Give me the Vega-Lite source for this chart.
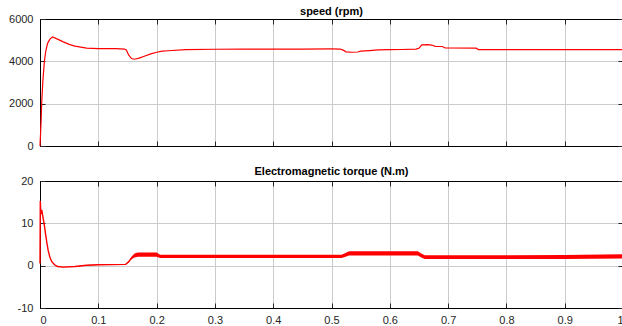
{
  "$schema": "https://vega.github.io/schema/vega-lite/v6.json",
  "padding": {"left": 8, "top": 6, "right": 0, "bottom": 0},
  "background": "white",
  "bounds": "flush",
  "spacing": 35,
  "config": {
    "view": {"stroke": null},
    "font": "Liberation Sans",
    "axis": {
      "labelFont": "Liberation Sans",
      "labelFontSize": 11,
      "labelColor": "#262626",
      "domainColor": "#000000",
      "domainWidth": 1,
      "tickColor": "#262626",
      "tickSize": -5,
      "tickWidth": 1,
      "gridColor": "#cccccc",
      "gridOpacity": 1,
      "gridWidth": 1,
      "labelPadding": 12,
      "labelExpr": "'' + datum.value"
    },
    "title": {"font": "Liberation Sans", "fontSize": 11, "fontWeight": "bold", "color": "#000000", "offset": -4, "frame": "group"}
  },
  "vconcat": [
    {
      "width": 583,
      "height": 127,
      "title": {"text": "speed (rpm)"},
      "data": {"values": [
        {"t": 0, "s": 0}, {"t": 0.001, "s": 600}, {"t": 0.002, "s": 1300}, {"t": 0.003, "s": 2100},
        {"t": 0.005, "s": 3100}, {"t": 0.0075, "s": 4000}, {"t": 0.01, "s": 4500}, {"t": 0.013, "s": 4850},
        {"t": 0.017, "s": 5050}, {"t": 0.0215, "s": 5150}, {"t": 0.03, "s": 5050}, {"t": 0.04, "s": 4920},
        {"t": 0.05, "s": 4800}, {"t": 0.06, "s": 4720}, {"t": 0.07, "s": 4670}, {"t": 0.08, "s": 4620},
        {"t": 0.1, "s": 4600}, {"t": 0.13, "s": 4600}, {"t": 0.145, "s": 4580}, {"t": 0.148, "s": 4540},
        {"t": 0.152, "s": 4300}, {"t": 0.157, "s": 4130}, {"t": 0.162, "s": 4100}, {"t": 0.17, "s": 4150},
        {"t": 0.18, "s": 4250}, {"t": 0.19, "s": 4350}, {"t": 0.2, "s": 4430}, {"t": 0.21, "s": 4480},
        {"t": 0.22, "s": 4500}, {"t": 0.25, "s": 4550}, {"t": 0.3, "s": 4570}, {"t": 0.35, "s": 4575},
        {"t": 0.4, "s": 4580}, {"t": 0.45, "s": 4580}, {"t": 0.5, "s": 4585}, {"t": 0.515, "s": 4580},
        {"t": 0.52, "s": 4530}, {"t": 0.525, "s": 4450}, {"t": 0.535, "s": 4430}, {"t": 0.545, "s": 4440},
        {"t": 0.55, "s": 4480}, {"t": 0.565, "s": 4510}, {"t": 0.58, "s": 4540}, {"t": 0.6, "s": 4555},
        {"t": 0.62, "s": 4560}, {"t": 0.645, "s": 4580}, {"t": 0.65, "s": 4620}, {"t": 0.655, "s": 4780},
        {"t": 0.665, "s": 4790}, {"t": 0.672, "s": 4770}, {"t": 0.678, "s": 4710}, {"t": 0.69, "s": 4700},
        {"t": 0.695, "s": 4630}, {"t": 0.748, "s": 4620}, {"t": 0.752, "s": 4555}, {"t": 1.0, "s": 4555}
      ]},
      "layer": [
        {
          "mark": {"type": "line", "color": "#ff0000", "strokeWidth": 1.2},
          "encoding": {
            "x": {"field": "t", "type": "quantitative", "scale": {"domain": [0, 1], "nice": false},
              "axis": {"orient": "bottom", "title": null, "labels": false, "grid": true, "values": [0, 0.1, 0.2, 0.3, 0.4, 0.5, 0.6, 0.7, 0.8, 0.9, 1]}},
            "y": {"field": "s", "type": "quantitative", "scale": {"domain": [0, 6000], "nice": false},
              "axis": {"orient": "left", "title": null, "grid": true, "values": [0, 2000, 4000, 6000]}}
          }
        },
        {
          "mark": {"type": "line", "color": "#ff0000", "strokeWidth": 1.2, "strokeOpacity": 0},
          "encoding": {
            "x": {"field": "t", "type": "quantitative", "scale": {"domain": [0, 1], "nice": false},
              "axis": {"orient": "top", "title": null, "labels": false, "grid": false, "values": [0, 0.1, 0.2, 0.3, 0.4, 0.5, 0.6, 0.7, 0.8, 0.9, 1]}},
            "y": {"field": "s", "type": "quantitative", "scale": {"domain": [0, 6000], "nice": false},
              "axis": {"orient": "right", "title": null, "labels": false, "grid": false, "values": [0, 2000, 4000, 6000]}}
          }
        }
      ],
      "resolve": {"axis": {"x": "independent", "y": "independent"}}
    },
    {
      "width": 583,
      "height": 127,
      "title": {"text": "Electromagnetic torque (N.m)", "offset": -2},
      "data": {"values": [
        {"t": 0, "v": 0.5, "lo": 0.45, "hi": 0.55},
        {"t": 0.0005, "v": 15.3, "lo": 15.25, "hi": 15.35},
        {"t": 0.0015, "v": 12.2, "lo": 12.15, "hi": 12.25},
        {"t": 0.003, "v": 13.2, "lo": 13.15, "hi": 13.25},
        {"t": 0.005, "v": 11.5, "lo": 11.45, "hi": 11.55},
        {"t": 0.0075, "v": 9.5, "lo": 9.45, "hi": 9.55},
        {"t": 0.0095, "v": 7.5, "lo": 7.45, "hi": 7.55},
        {"t": 0.012, "v": 5.2, "lo": 5.15, "hi": 5.25},
        {"t": 0.014, "v": 3.6, "lo": 3.55, "hi": 3.65},
        {"t": 0.017, "v": 2.0, "lo": 1.95, "hi": 2.05},
        {"t": 0.02, "v": 1.0, "lo": 0.95, "hi": 1.05},
        {"t": 0.025, "v": 0.2, "lo": 0.15, "hi": 0.25},
        {"t": 0.03, "v": -0.2, "lo": -0.25, "hi": -0.15},
        {"t": 0.04, "v": -0.35, "lo": -0.4, "hi": -0.3},
        {"t": 0.06, "v": -0.2, "lo": -0.25, "hi": -0.15},
        {"t": 0.08, "v": 0.1, "lo": 0.05, "hi": 0.15},
        {"t": 0.1, "v": 0.2, "lo": 0.15, "hi": 0.25},
        {"t": 0.147, "v": 0.3, "lo": 0.25, "hi": 0.35},
        {"t": 0.152, "v": 0.9, "lo": 0.75, "hi": 1.05},
        {"t": 0.157, "v": 1.8, "lo": 1.5, "hi": 2.1},
        {"t": 0.162, "v": 2.4, "lo": 1.95, "hi": 2.85},
        {"t": 0.168, "v": 2.6, "lo": 2.1, "hi": 3.1},
        {"t": 0.2, "v": 2.6, "lo": 2.1, "hi": 3.1},
        {"t": 0.206, "v": 2.2, "lo": 1.8, "hi": 2.6},
        {"t": 0.3, "v": 2.2, "lo": 1.8, "hi": 2.6},
        {"t": 0.4, "v": 2.2, "lo": 1.8, "hi": 2.6},
        {"t": 0.517, "v": 2.2, "lo": 1.8, "hi": 2.6},
        {"t": 0.523, "v": 2.5, "lo": 2.05, "hi": 2.95},
        {"t": 0.53, "v": 2.9, "lo": 2.4, "hi": 3.4},
        {"t": 0.6, "v": 2.9, "lo": 2.4, "hi": 3.4},
        {"t": 0.648, "v": 2.9, "lo": 2.4, "hi": 3.4},
        {"t": 0.654, "v": 2.4, "lo": 1.95, "hi": 2.85},
        {"t": 0.66, "v": 2.0, "lo": 1.55, "hi": 2.45},
        {"t": 0.8, "v": 2.0, "lo": 1.55, "hi": 2.45},
        {"t": 0.9, "v": 2.05, "lo": 1.6, "hi": 2.5},
        {"t": 1.0, "v": 2.2, "lo": 1.7, "hi": 2.7}
      ]},
      "layer": [
        {
          "mark": {"type": "area", "color": "#ff0000", "opacity": 1},
          "encoding": {
            "x": {"field": "t", "type": "quantitative", "scale": {"domain": [0, 1], "nice": false},
              "axis": {"orient": "bottom", "title": null, "grid": true, "labelPadding": 11, "values": [0, 0.1, 0.2, 0.3, 0.4, 0.5, 0.6, 0.7, 0.8, 0.9, 1]}},
            "y": {"field": "lo", "type": "quantitative", "scale": {"domain": [-10, 20], "nice": false},
              "axis": {"orient": "left", "title": null, "grid": true, "values": [-10, 0, 10, 20]}},
            "y2": {"field": "hi"}
          }
        },
        {
          "mark": {"type": "line", "color": "#ff0000", "strokeWidth": 1.4},
          "encoding": {
            "x": {"field": "t", "type": "quantitative", "scale": {"domain": [0, 1], "nice": false},
              "axis": {"orient": "top", "title": null, "labels": false, "grid": false, "values": [0, 0.1, 0.2, 0.3, 0.4, 0.5, 0.6, 0.7, 0.8, 0.9, 1]}},
            "y": {"field": "v", "type": "quantitative", "scale": {"domain": [-10, 20], "nice": false},
              "axis": {"orient": "right", "title": null, "labels": false, "grid": false, "values": [-10, 0, 10, 20]}}
          }
        }
      ],
      "resolve": {"axis": {"x": "independent", "y": "independent"}}
    }
  ]
}
